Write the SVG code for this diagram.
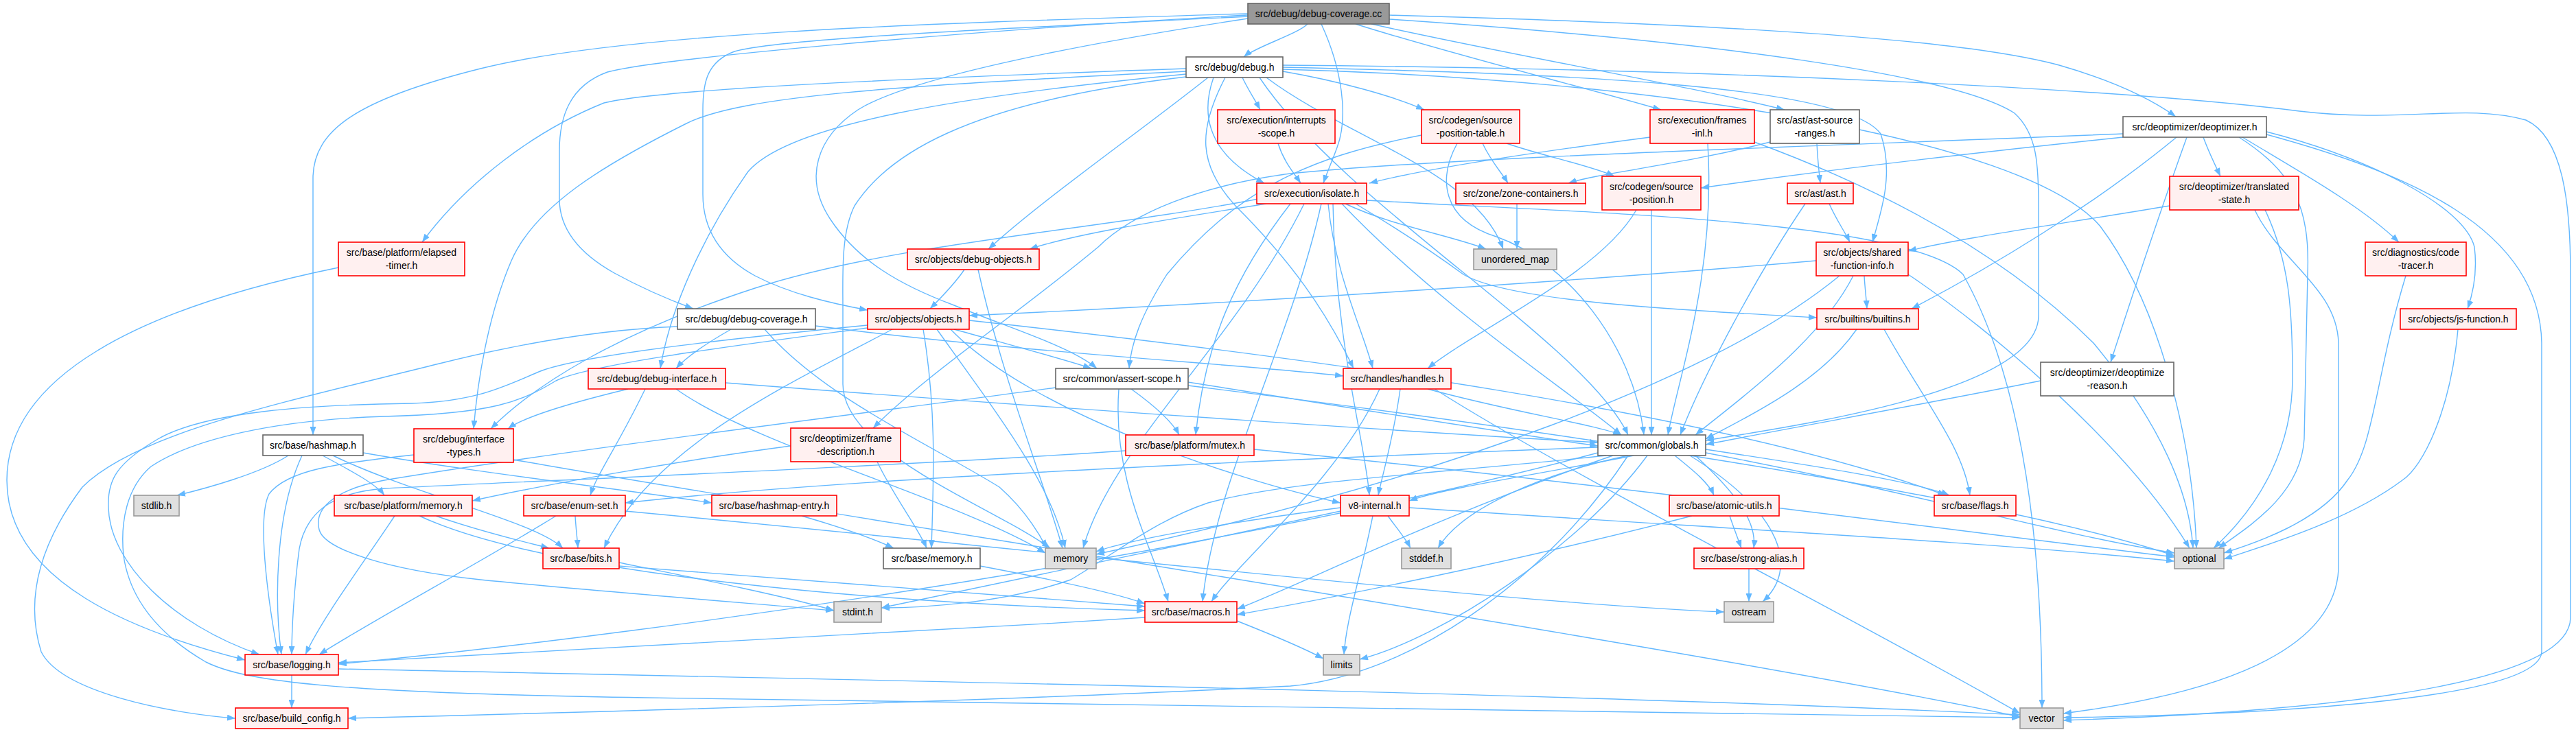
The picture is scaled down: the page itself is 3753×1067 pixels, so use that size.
<svg xmlns="http://www.w3.org/2000/svg" width="3753" height="1067" viewBox="0 0 3753 1067">
<style>
.e path{fill:none;stroke:#63b8ff;stroke-width:1.4;marker-end:url(#a)}
rect{stroke-width:1.6}
.r rect{fill:#fff0f0;stroke:#ff0000}
.g rect{fill:#ffffff;stroke:#666666}
.s rect{fill:#e0e0e0;stroke:#999999}
.k rect{fill:#999999;stroke:#666666}
text{font-family:"Liberation Sans",Arial,sans-serif;font-size:14px;text-anchor:middle;fill:#000}
</style>
<defs>
<marker id="a" viewBox="0 0 12 9" refX="12" refY="4.5" markerWidth="12" markerHeight="9" markerUnits="userSpaceOnUse" orient="auto"><path d="M0,0 L12,4.5 L0,9 z" fill="#63b8ff"/></marker>
</defs>
<rect x="0" y="0" width="3753" height="1067" fill="#ffffff"/>
<g id="edges" class="e">
<path d="M1905,35 C1890,50 1830,68 1812,83"/>
<path d="M1818,22 C1400,45 960,85 885,105 C830,125 815,170 815,220 L815,290 C815,335 845,370 895,398 C935,420 975,437 1010,450"/>
<path d="M1818,24 C1500,40 1140,55 1070,75 C1030,90 1024,120 1024,160 L1024,283 C1024,330 1045,372 1100,402 C1150,428 1210,442 1264,452"/>
<path d="M1818,27 C1600,60 1330,110 1250,160 C1190,200 1170,260 1210,320 C1250,380 1310,415 1390,445 C1470,478 1560,505 1598,537"/>
<path d="M1925,35 C1955,100 1965,170 1948,215 C1940,237 1933,252 1928,267"/>
<path d="M1975,35 C2100,75 2300,125 2420,160"/>
<path d="M1998,35 C2200,80 2460,125 2600,160"/>
<path d="M2024,22 C2500,35 2850,55 3000,95 C3080,118 3135,145 3170,170"/>
<path d="M2024,28 C2500,60 2850,110 2935,165 C2968,195 2970,240 2970,300 L2970,460 C2970,570 2620,620 2485,642"/>
<path d="M1818,20 C1300,35 900,50 700,100 C520,145 456,190 456,260 L456,634"/>
<path d="M1728,100 C1300,115 960,130 880,150 C780,190 680,265 615,353"/>
<path d="M1728,104 C1300,125 1080,140 1000,180 C880,240 780,300 745,380 C715,450 697,540 690,625"/>
<path d="M1810,113 C1818,130 1828,145 1836,160"/>
<path d="M1869,104 C1950,118 2030,140 2075,160"/>
<path d="M1768,113 C1748,170 1762,225 1842,267"/>
<path d="M1760,113 C1650,200 1520,290 1440,363"/>
<path d="M1728,108 C1400,140 1150,180 1090,250 C1040,320 980,430 962,537"/>
<path d="M1785,113 C1745,190 1745,240 1800,300 C1880,380 1930,450 1972,537"/>
<path d="M1835,113 C1960,300 2310,500 2372,634"/>
<path d="M1869,98 C2300,108 2690,125 2740,195 C2760,255 2740,310 2728,353"/>
<path d="M1728,112 C1400,150 1290,230 1245,300 C1225,340 1228,400 1228,450 L1228,560 C1228,660 1450,740 1530,799"/>
<path d="M1869,101 C2400,115 2950,200 3060,330 C3150,450 3195,650 3200,799"/>
<path d="M1845,113 C1960,200 2150,250 2190,363"/>
<path d="M1869,95 C2500,100 3100,130 3350,162 C3500,180 3590,150 3680,175 C3735,200 3745,300 3745,400 L3745,900 C3745,1010 3300,1040 3006,1050"/>
<path d="M1833,290 C1600,335 1300,355 1100,420 C900,485 780,560 715,625"/>
<path d="M1845,297 C1700,320 1570,340 1500,363"/>
<path d="M1942,297 C1945,500 1990,650 1995,722"/>
<path d="M1925,297 C1880,500 1770,700 1752,877"/>
<path d="M1880,297 C1800,400 1755,500 1742,634"/>
<path d="M1975,297 C2030,330 2080,362 2132,400 C2200,440 2450,452 2647,463"/>
<path d="M1955,297 C2100,450 2300,580 2362,634"/>
<path d="M1935,297 C1945,400 1985,480 2000,537"/>
<path d="M1960,297 C2030,330 2110,342 2165,363"/>
<path d="M1900,297 C1800,500 1620,650 1578,799"/>
<path d="M1991,292 C2300,310 2780,320 2860,400 C2950,560 2975,800 2975,1032"/>
<path d="M1862,209 C1870,235 1885,252 1895,267"/>
<path d="M2160,209 C2172,235 2188,252 2197,267"/>
<path d="M2195,209 C2250,228 2320,242 2352,257"/>
<path d="M2123,209 C2095,260 2100,320 2180,345 C2280,380 2380,500 2395,634"/>
<path d="M2071,197 C1900,230 1800,280 1700,400 C1662,460 1648,500 1645,537"/>
<path d="M2404,200 C2250,220 2080,245 1995,267"/>
<path d="M2488,209 C2500,400 2445,550 2430,634"/>
<path d="M2556,207 C2700,260 2900,350 3050,500 C3150,620 3190,720 3195,799"/>
<path d="M2647,209 C2648,230 2650,250 2652,267"/>
<path d="M2579,207 C2450,240 2330,252 2285,267"/>
<path d="M2210,297 C2210,320 2210,340 2210,363"/>
<path d="M2406,306 L2406,634"/>
<path d="M2384,306 C2330,400 2150,480 2080,537"/>
<path d="M2665,297 C2675,320 2688,338 2695,353"/>
<path d="M2630,297 C2560,400 2480,550 2448,634"/>
<path d="M3210,200 C3218,222 3228,242 3235,257"/>
<path d="M3093,195 C2600,215 2100,230 1880,253 C1750,270 1650,310 1600,360 C1480,460 1350,545 1272,624"/>
<path d="M3093,200 C2950,215 2700,242 2478,274"/>
<path d="M3171,200 C3050,300 2900,390 2785,450"/>
<path d="M3267,200 C3350,250 3440,300 3495,353"/>
<path d="M3302,192 C3450,230 3590,300 3605,360 C3610,400 3602,430 3595,450"/>
<path d="M3186,200 C3150,300 3110,420 3075,528"/>
<path d="M3262,200 C3340,250 3366,300 3362,400 L3357,640 C3352,720 3280,765 3232,799"/>
<path d="M3302,196 C3500,250 3700,330 3703,500 L3703,950 C3700,1020 3300,1042 3006,1046"/>
<path d="M3161,300 C2980,330 2850,348 2780,366"/>
<path d="M3300,306 C3335,380 3340,450 3340,550 C3340,650 3295,735 3225,799"/>
<path d="M3285,306 C3320,380 3405,420 3407,500 L3407,830 C3400,960 3200,1015 3006,1040"/>
<path d="M1405,393 C1390,415 1370,435 1355,450"/>
<path d="M1425,393 C1460,550 1520,700 1548,799"/>
<path d="M2646,380 C2300,410 1800,442 1412,460"/>
<path d="M2716,402 C2717,420 2719,435 2720,450"/>
<path d="M2700,402 C2650,500 2530,585 2470,634"/>
<path d="M2780,400 C2900,480 3100,650 3190,799"/>
<path d="M2680,402 C2500,550 2100,700 1597,808"/>
<path d="M1065,480 C1030,500 1000,520 985,537"/>
<path d="M1188,475 C1500,515 1800,530 1957,548"/>
<path d="M1114,480 C1200,580 1360,650 1456,710 C1490,740 1510,770 1525,799"/>
<path d="M987,476 C880,480 760,500 640,530 C420,585 200,630 120,710 C60,790 35,870 60,950 C90,1010 250,1040 343,1047"/>
<path d="M1390,480 C1480,505 1555,525 1590,537"/>
<path d="M1412,467 C1900,520 2500,600 2835,722"/>
<path d="M1300,480 C1150,560 950,650 880,799"/>
<path d="M1264,474 C1100,490 860,515 790,540 C740,560 700,585 600,588 C450,590 300,600 230,640 C170,675 156,700 158,740 C160,820 250,910 378,954"/>
<path d="M1264,478 C1100,500 860,530 810,555 C760,585 720,603 560,607 C400,612 280,640 220,680 C185,710 175,760 180,810 C190,880 240,930 300,965 C360,995 500,1010 940,1017 C1800,1030 2600,1040 2943,1046"/>
<path d="M1345,480 C1365,600 1360,700 1357,799"/>
<path d="M1385,480 C1500,600 1800,700 1953,733"/>
<path d="M1365,480 C1450,600 1530,700 1552,799"/>
<path d="M2705,480 C2650,560 2540,610 2485,640"/>
<path d="M2745,480 C2800,580 2860,650 2870,722"/>
<path d="M3505,402 C3460,550 3460,650 3420,700 C3380,760 3285,792 3240,806"/>
<path d="M3581,480 C3570,600 3530,680 3500,700 C3420,760 3300,795 3240,815"/>
<path d="M2973,555 C2800,590 2600,625 2485,648"/>
<path d="M420,664 C380,690 300,712 258,722"/>
<path d="M470,664 C515,688 548,706 560,722"/>
<path d="M485,664 C600,720 780,760 820,799"/>
<path d="M529,660 C700,690 900,712 1037,733"/>
<path d="M440,664 C400,750 400,880 410,954"/>
<path d="M915,567 C820,590 760,610 740,625"/>
<path d="M1057,558 C1600,600 2100,632 2328,645"/>
<path d="M940,567 C900,650 870,690 860,722"/>
<path d="M985,567 C1100,650 1400,730 1523,806"/>
<path d="M1648,567 C1680,590 1708,615 1718,634"/>
<path d="M1630,567 C1620,700 1680,800 1702,877"/>
<path d="M1538,565 C1200,610 800,660 560,700 C480,715 458,745 465,772 C472,800 560,830 700,845 C850,860 1100,880 1215,890"/>
<path d="M1731,557 C2000,600 2200,632 2328,650"/>
<path d="M1731,562 C2200,620 2900,720 3168,810"/>
<path d="M2080,567 C2200,600 2320,618 2362,634"/>
<path d="M2010,567 C1950,700 1800,822 1765,877"/>
<path d="M2090,567 C2300,700 2700,900 2943,1040"/>
<path d="M2040,567 C2030,640 2012,700 2008,722"/>
<path d="M748,670 C1200,750 2500,950 2943,1045"/>
<path d="M603,663 C500,675 420,683 392,720 C372,760 395,900 405,954"/>
<path d="M1278,673 C1300,720 1338,770 1350,799"/>
<path d="M1152,650 C1000,670 800,705 688,730"/>
<path d="M1640,657 C1300,680 800,700 560,712 C480,718 445,750 436,800 C428,860 425,920 425,954"/>
<path d="M1827,655 C2300,700 2900,780 3168,812"/>
<path d="M2380,664 C2250,690 2100,712 2053,730"/>
<path d="M2440,664 C2470,688 2490,705 2497,722"/>
<path d="M2470,664 C2530,720 2560,760 2555,799"/>
<path d="M2485,655 C2650,680 2790,702 2840,722"/>
<path d="M2350,664 C2100,750 1900,850 1802,888"/>
<path d="M2328,660 C1800,800 1000,920 493,968"/>
<path d="M2372,664 C2250,850 2050,985 1880,1000 C1500,1020 900,1037 507,1047"/>
<path d="M2328,652 C1800,672 1200,700 911,733"/>
<path d="M2340,664 C2100,690 1880,700 1760,733 C1680,760 1620,810 1560,845 C1460,880 1340,886 1284,886"/>
<path d="M2372,664 C2250,690 2130,740 2095,799"/>
<path d="M2400,664 C2300,800 2100,930 1981,961"/>
<path d="M2462,664 C2600,750 2620,830 2568,877"/>
<path d="M2485,660 C2800,720 3000,780 3168,806"/>
<path d="M838,752 C839,770 841,785 842,799"/>
<path d="M810,752 C700,820 550,900 465,954"/>
<path d="M911,745 C1500,800 2200,880 2512,892"/>
<path d="M635,752 C700,775 765,790 800,799"/>
<path d="M575,752 C530,820 470,900 445,954"/>
<path d="M611,752 C800,840 1300,880 1668,890"/>
<path d="M1168,752 C1230,770 1272,785 1302,799"/>
<path d="M2022,752 C2035,770 2048,785 2055,799"/>
<path d="M2000,752 C1980,850 1962,900 1958,954"/>
<path d="M1953,745 C1700,800 1400,860 1284,886"/>
<path d="M1953,740 C1800,760 1650,785 1597,804"/>
<path d="M2053,740 C2500,770 2900,790 3168,818"/>
<path d="M2520,752 C2526,770 2532,785 2537,799"/>
<path d="M2465,752 C2200,820 1950,870 1802,896"/>
<path d="M2548,829 L2548,877"/>
<path d="M902,825 C1200,850 1500,870 1668,884"/>
<path d="M902,820 C1000,840 1150,870 1215,890"/>
<path d="M1428,825 C1550,848 1630,866 1668,880"/>
<path d="M1668,900 C1200,930 700,955 493,966"/>
<path d="M1802,905 C1860,928 1900,945 1928,960"/>
<path d="M425,984 L425,1032"/>
<path d="M493,975 C1200,990 2300,1010 2943,1042"/>
<path d="M493,390 C200,450 10,550 10,700 C10,850 200,922 357,962"/>
</g>
<g id="n-root" class="k"><rect x="1818" y="5" width="206" height="30"/><text x="1921" y="25">src/debug/debug-coverage.cc</text></g>
<g id="n-debug" class="g"><rect x="1728" y="83" width="141" height="30"/><text x="1798.5" y="103">src/debug/debug.h</text></g>
<g id="n-elapsed" class="r"><rect x="493" y="353" width="184" height="49"/><text x="585" y="373">src/base/platform/elapsed</text><text x="585" y="392">-timer.h</text></g>
<g id="n-interrupts" class="r"><rect x="1774" y="160" width="171" height="49"/><text x="1859.5" y="180">src/execution/interrupts</text><text x="1859.5" y="199">-scope.h</text></g>
<g id="n-spt" class="r"><rect x="2071" y="160" width="143" height="49"/><text x="2142.5" y="180">src/codegen/source</text><text x="2142.5" y="199">-position-table.h</text></g>
<g id="n-frames" class="r"><rect x="2404" y="160" width="152" height="49"/><text x="2480" y="180">src/execution/frames</text><text x="2480" y="199">-inl.h</text></g>
<g id="n-asr" class="g"><rect x="2579" y="160" width="130" height="49"/><text x="2644" y="180">src/ast/ast-source</text><text x="2644" y="199">-ranges.h</text></g>
<g id="n-deopt" class="g"><rect x="3093" y="170" width="209" height="30"/><text x="3197.5" y="190">src/deoptimizer/deoptimizer.h</text></g>
<g id="n-isolate" class="r"><rect x="1831" y="267" width="160" height="30"/><text x="1911" y="287">src/execution/isolate.h</text></g>
<g id="n-zone" class="r"><rect x="2121" y="267" width="189" height="30"/><text x="2215.5" y="287">src/zone/zone-containers.h</text></g>
<g id="n-sp" class="r"><rect x="2334" y="257" width="144" height="49"/><text x="2406" y="277">src/codegen/source</text><text x="2406" y="296">-position.h</text></g>
<g id="n-ast" class="r"><rect x="2604" y="267" width="96" height="30"/><text x="2652" y="287">src/ast/ast.h</text></g>
<g id="n-ts" class="r"><rect x="3161" y="257" width="188" height="49"/><text x="3255" y="277">src/deoptimizer/translated</text><text x="3255" y="296">-state.h</text></g>
<g id="n-dobj" class="r"><rect x="1322" y="363" width="192" height="30"/><text x="1418" y="383">src/objects/debug-objects.h</text></g>
<g id="n-umap" class="s"><rect x="2147" y="363" width="121" height="30"/><text x="2207.5" y="383">unordered_map</text></g>
<g id="n-sfi" class="r"><rect x="2646" y="353" width="134" height="49"/><text x="2713" y="373">src/objects/shared</text><text x="2713" y="392">-function-info.h</text></g>
<g id="n-ct" class="r"><rect x="3446" y="353" width="147" height="49"/><text x="3519.5" y="373">src/diagnostics/code</text><text x="3519.5" y="392">-tracer.h</text></g>
<g id="n-dcov" class="g"><rect x="987" y="450" width="201" height="30"/><text x="1087.5" y="470">src/debug/debug-coverage.h</text></g>
<g id="n-objects" class="r"><rect x="1264" y="450" width="148" height="30"/><text x="1338" y="470">src/objects/objects.h</text></g>
<g id="n-builtins" class="r"><rect x="2647" y="450" width="148" height="30"/><text x="2721" y="470">src/builtins/builtins.h</text></g>
<g id="n-jsf" class="r"><rect x="3497" y="450" width="169" height="30"/><text x="3581.5" y="470">src/objects/js-function.h</text></g>
<g id="n-hashmap" class="g"><rect x="383" y="634" width="146" height="30"/><text x="456" y="654">src/base/hashmap.h</text></g>
<g id="n-dint" class="r"><rect x="857" y="537" width="200" height="30"/><text x="957" y="557">src/debug/debug-interface.h</text></g>
<g id="n-assert" class="g"><rect x="1538" y="537" width="193" height="30"/><text x="1634.5" y="557">src/common/assert-scope.h</text></g>
<g id="n-handles" class="r"><rect x="1957" y="537" width="157" height="30"/><text x="2035.5" y="557">src/handles/handles.h</text></g>
<g id="n-dreason" class="g"><rect x="2973" y="528" width="194" height="49"/><text x="3070" y="548">src/deoptimizer/deoptimize</text><text x="3070" y="567">-reason.h</text></g>
<g id="n-itypes" class="r"><rect x="603" y="625" width="145" height="49"/><text x="675.5" y="645">src/debug/interface</text><text x="675.5" y="664">-types.h</text></g>
<g id="n-fdesc" class="r"><rect x="1152" y="624" width="160" height="49"/><text x="1232" y="644">src/deoptimizer/frame</text><text x="1232" y="663">-description.h</text></g>
<g id="n-mutex" class="r"><rect x="1640" y="634" width="187" height="30"/><text x="1733.5" y="654">src/base/platform/mutex.h</text></g>
<g id="n-globals" class="g"><rect x="2328" y="634" width="157" height="30"/><text x="2406.5" y="654">src/common/globals.h</text></g>
<g id="n-stdlib" class="s"><rect x="195" y="722" width="66" height="30"/><text x="228" y="742">stdlib.h</text></g>
<g id="n-pmem" class="r"><rect x="487" y="722" width="201" height="30"/><text x="587.5" y="742">src/base/platform/memory.h</text></g>
<g id="n-enumset" class="r"><rect x="763" y="722" width="148" height="30"/><text x="837" y="742">src/base/enum-set.h</text></g>
<g id="n-hentry" class="r"><rect x="1037" y="722" width="182" height="30"/><text x="1128" y="742">src/base/hashmap-entry.h</text></g>
<g id="n-v8i" class="r"><rect x="1953" y="722" width="100" height="30"/><text x="2003" y="742">v8-internal.h</text></g>
<g id="n-atomic" class="r"><rect x="2432" y="722" width="160" height="30"/><text x="2512" y="742">src/base/atomic-utils.h</text></g>
<g id="n-flags" class="r"><rect x="2818" y="722" width="119" height="30"/><text x="2877.5" y="742">src/base/flags.h</text></g>
<g id="n-bits" class="r"><rect x="791" y="799" width="111" height="30"/><text x="846.5" y="819">src/base/bits.h</text></g>
<g id="n-bmem" class="g"><rect x="1287" y="799" width="141" height="30"/><text x="1357.5" y="819">src/base/memory.h</text></g>
<g id="n-memory" class="s"><rect x="1523" y="799" width="74" height="30"/><text x="1560" y="819">memory</text></g>
<g id="n-stddef" class="s"><rect x="2042" y="799" width="72" height="30"/><text x="2078" y="819">stddef.h</text></g>
<g id="n-strong" class="r"><rect x="2468" y="799" width="160" height="30"/><text x="2548" y="819">src/base/strong-alias.h</text></g>
<g id="n-optional" class="s"><rect x="3168" y="799" width="72" height="30"/><text x="3204" y="819">optional</text></g>
<g id="n-stdint" class="s"><rect x="1215" y="877" width="69" height="30"/><text x="1249.5" y="897">stdint.h</text></g>
<g id="n-macros" class="r"><rect x="1668" y="877" width="134" height="30"/><text x="1735" y="897">src/base/macros.h</text></g>
<g id="n-ostream" class="s"><rect x="2512" y="877" width="72" height="30"/><text x="2548" y="897">ostream</text></g>
<g id="n-logging" class="r"><rect x="357" y="954" width="136" height="30"/><text x="425" y="974">src/base/logging.h</text></g>
<g id="n-limits" class="s"><rect x="1928" y="954" width="53" height="30"/><text x="1954.5" y="974">limits</text></g>
<g id="n-bconf" class="r"><rect x="343" y="1032" width="164" height="30"/><text x="425" y="1052">src/base/build_config.h</text></g>
<g id="n-vector" class="s"><rect x="2943" y="1032" width="63" height="30"/><text x="2974.5" y="1052">vector</text></g>
</svg>
